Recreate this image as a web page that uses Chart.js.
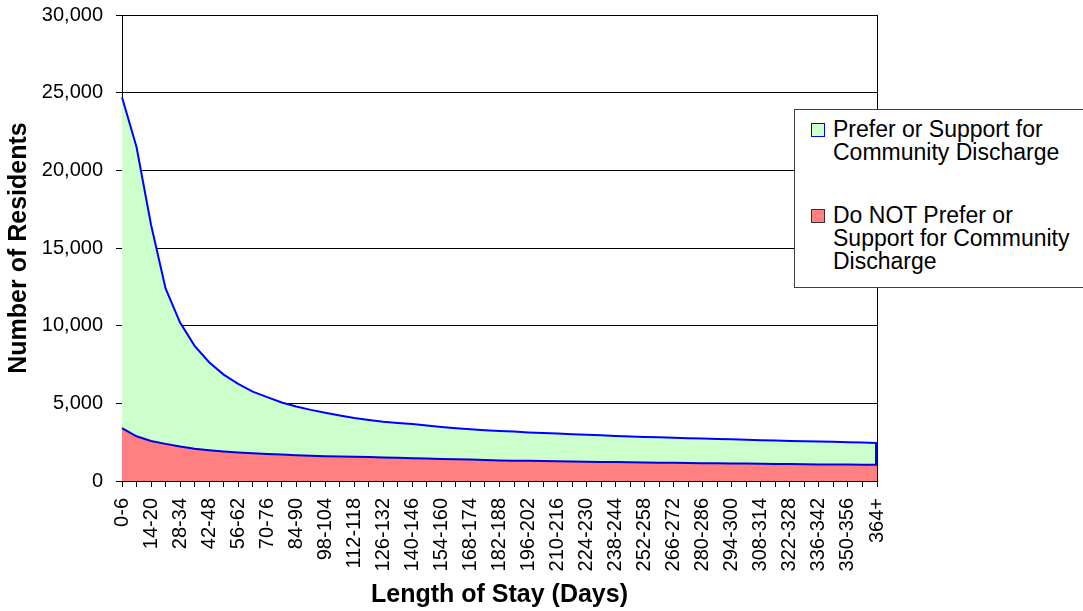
<!DOCTYPE html>
<html>
<head>
<meta charset="utf-8">
<script src="https://cdn.jsdelivr.net/npm/chart.js@4.4.0/dist/chart.umd.min.js"></script>
<style>
body { margin: 0; background: #fff; font-family: "Liberation Sans", Arial, sans-serif; }
#wrap { position: relative; width: 1083px; height: 611px; }
#legend { position: absolute; left: 794px; top: 109px; width: 300px; height: 177px; border: 1px solid #404040; background: #fff; }
.item { position: absolute; left: 0; font-size: 23px; line-height: 23px; color: #000; }
.item .box { position: absolute; left: 16px; top: 5px; width: 12px; height: 12px; }
.item .txt { position: absolute; left: 38px; top: 0; width: 262px; white-space: nowrap; }
</style>
</head>
<body>
<div id="wrap">
<canvas id="myChart" width="1083" height="611"></canvas>
<div id="legend">
  <div class="item" style="top:8px"><div class="box" style="background:#ccffcc;border:1px solid #0000ff"></div><div class="txt">Prefer or Support for<br>Community Discharge</div></div>
  <div class="item" style="top:94px"><div class="box" style="background:#ff8080;border:1px solid #333"></div><div class="txt">Do NOT Prefer or<br>Support for Community<br>Discharge</div></div>
</div>
</div>
<script>
var labels = ["0-6","7-13","14-20","21-27","28-34","35-41","42-48","49-55","56-62","63-69",
  "70-76","77-83","84-90","91-97","98-104","105-111","112-118","119-125","126-132","133-139",
  "140-146","147-153","154-160","161-167","168-174","175-181","182-188","189-195","196-202","203-209",
  "210-216","217-223","224-230","231-237","238-244","245-251","252-258","259-265","266-272","273-279",
  "280-286","287-293","294-300","301-307","308-314","315-321","322-328","329-335","336-342","343-349",
  "350-356","357-363","364+"];

// residents who do NOT prefer community discharge (bottom layer)
var notPrefer = [3400,2880,2580,2390,2220,2080,1980,1900,1830,1780,
  1740,1700,1660,1630,1600,1580,1560,1540,1520,1500,
  1470,1450,1420,1400,1380,1350,1320,1310,1300,1280,
  1270,1250,1240,1230,1220,1200,1190,1180,1170,1160,
  1150,1140,1130,1120,1110,1100,1090,1080,1070,1060,
  1060,1050,1040];

// residents who prefer / support community discharge (stacked on top)
var prefer = [21300,18620,13920,10010,7980,6620,5670,4950,4420,3970,
  3660,3350,3140,2950,2800,2640,2500,2390,2300,2240,
  2200,2130,2060,2000,1950,1920,1900,1870,1830,1810,
  1780,1760,1730,1710,1680,1670,1650,1630,1610,1600,
  1580,1570,1550,1530,1510,1500,1490,1480,1470,1460,
  1440,1430,1410];

var yMax = 30000;
var yStep = 5000;

var fontFamily = "'Liberation Sans', Arial, sans-serif";

// frame on the right side + closing edge of the green area
var framePlugin = {
  id: 'frame',
  afterDatasetsDraw: function(chart) {
    var c = chart.ctx, a = chart.chartArea;
    var xs = chart.scales.x, ys = chart.scales.y;
    var last = labels.length - 1;
    var x = xs.getPixelForValue(last);
    c.save();
    c.strokeStyle = '#0000ff';
    c.lineWidth = 2;
    c.beginPath();
    c.moveTo(x - 1, ys.getPixelForValue(notPrefer[last] + prefer[last]));
    c.lineTo(x - 1, ys.getPixelForValue(notPrefer[last]));
    c.stroke();
    c.strokeStyle = '#000';
    c.lineWidth = 1;
    c.beginPath();
    c.moveTo(a.right + 0.5, a.top);
    c.lineTo(a.right + 0.5, a.bottom);
    c.stroke();
    c.restore();
  }
};

var ctx = document.getElementById('myChart');
var myChart = new Chart(ctx, {
  type: 'line',
  data: {
    labels: labels,
    datasets: [
      {
        label: 'Do NOT Prefer or Support for Community Discharge',
        data: notPrefer,
        backgroundColor: '#ff8080',
        borderColor: '#0000dd',
        borderWidth: 2,
        fill: 'origin',
        pointRadius: 0,
        tension: 0
      },
      {
        label: 'Prefer or Support for Community Discharge',
        data: prefer,
        backgroundColor: '#ccffcc',
        borderColor: '#0000ff',
        borderWidth: 2,
        fill: '-1',
        pointRadius: 0,
        tension: 0
      }
    ]
  },
  options: {
    responsive: false,
    animation: false,
    layout: { padding: { left: 0, right: 206, top: 15, bottom: 0 } },
    plugins: {
      legend: { display: false },
      tooltip: { enabled: false }
    },
    scales: {
      x: {
        offset: false,
        afterFit: function(s) { s.height = 130; s.paddingLeft = 0; s.paddingRight = 0; },
        grid: { display: true, drawOnChartArea: false, drawTicks: true, tickLength: 6, color: '#000' },
        border: { display: true, color: '#000' },
        ticks: {
          autoSkip: false,
          minRotation: 90,
          maxRotation: 90,
          padding: 11,
          color: '#000',
          font: { family: fontFamily, size: 20 },
          callback: function(v, i) { return i % 2 === 0 ? labels[i] : ''; }
        },
        title: {
          display: true,
          text: 'Length of Stay (Days)',
          color: '#000',
          font: { family: fontFamily, size: 25, weight: 'bold' },
          padding: { top: 4, bottom: 1 }
        }
      },
      y: {
        stacked: true,
        min: 0,
        max: yMax,
        afterFit: function(s) { s.width = 122; s.paddingTop = 0; s.paddingBottom = 0; },
        grid: { color: '#000', lineWidth: 1, tickLength: 6 },
        border: { display: true, color: '#000' },
        ticks: {
          stepSize: yStep,
          padding: 13,
          color: '#000',
          font: { family: fontFamily, size: 20 },
          callback: function(v) { return v.toLocaleString('en-US'); }
        },
        title: {
          display: true,
          text: 'Number of Residents',
          color: '#000',
          font: { family: fontFamily, size: 25, weight: 'bold' },
          padding: { top: 4, bottom: 4 }
        }
      }
    }
  },
  plugins: [framePlugin]
});
</script>
</body>
</html>
